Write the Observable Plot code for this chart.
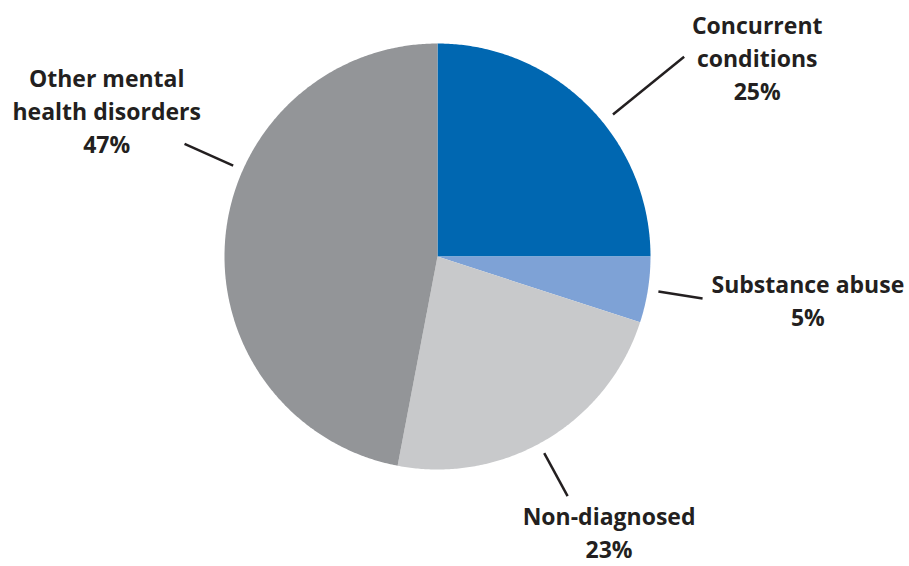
<!DOCTYPE html>
<html>
<head>
<meta charset="utf-8">
<script src="https://cdn.jsdelivr.net/npm/d3@7"></script>
<script src="https://cdn.jsdelivr.net/npm/@observablehq/plot@0.6"></script>
<style>
  html, body { margin: 0; padding: 0; background: #fff; }
  #chart svg { display: block; }
</style>
</head>
<body>
<div id="chart"></div>
<script>
// ---- data ----
const categories = ["Concurrent conditions", "Substance abuse", "Non-diagnosed", "Other mental health disorders"];
const labelLines = ["Concurrent\nconditions", "Substance abuse", "Non-diagnosed", "Other mental\nhealth disorders"];
const values = [25, 5, 23, 47];
const colors = ["#0067b1", "#7ea2d6", "#c8c9cb", "#939598"];

// ---- layout (angles in degrees clockwise from 12 o'clock; radii in pie radii) ----
const leaderAngle = [51, 99, 151.5, 294];
const leaderInner = [1.06, 1.05, 1.05, 1.05];
const leaderOuter = [1.49, 1.26, 1.28, 1.30];
const labelAngle = [58, 96.5, 148.0, 294];
const labelRadius = [1.77, 1.75, 1.52, 1.70];

const W = 909, H = 566, R = 213, cx = 437, cy = 256;

const total = d3.sum(values);
const pie = d3.pie().sort(null).value(d => d)(values);

const rad = a => a * Math.PI / 180;
const pt = (angRad, r) => [r * Math.sin(angRad), r * Math.cos(angRad)];

// slice outlines (geometry sampled along the arc of each slice)
const sliceData = [];
pie.forEach((p, i) => {
  sliceData.push({cat: categories[i], x: 0, y: 0});
  const n = Math.max(2, Math.ceil((p.endAngle - p.startAngle) / rad(0.5)));
  for (let k = 0; k <= n; k++) {
    const a = p.startAngle + (p.endAngle - p.startAngle) * k / n;
    const [x, y] = pt(a, 1);
    sliceData.push({cat: categories[i], x, y});
  }
});

const leaders = categories.map((c, i) => {
  const [x1, y1] = pt(rad(leaderAngle[i]), leaderInner[i]);
  const [x2, y2] = pt(rad(leaderAngle[i]), leaderOuter[i]);
  return {cat: c, x1, y1, x2, y2};
});

const labels = categories.map((c, i) => {
  const [x, y] = pt(rad(labelAngle[i]), labelRadius[i]);
  return {cat: c, x, y, text: labelLines[i] + "\n" + Math.round(values[i] / total * 100) + "%"};
});

const chart = Plot.plot({
  width: W,
  height: H,
  margin: 0,
  x: {domain: [-cx / R, (W - cx) / R], axis: null},
  y: {domain: [-(H - cy) / R, cy / R], axis: null},
  style: {background: "#fff"},
  marks: [
    ...categories.map((c, i) =>
      Plot.line(sliceData.filter(d => d.cat === c), {x: "x", y: "y", fill: colors[i], stroke: "none", curve: "linear"})
    ),
    Plot.link(leaders, {x1: "x1", y1: "y1", x2: "x2", y2: "y2", stroke: "#231f20", strokeWidth: 2.5}),
    Plot.text(labels, {
      x: "x", y: "y", text: "text",
      fill: "#231f20",
      fontFamily: "Open Sans",
      fontWeight: "bold",
      fontSize: 23,
      lineHeight: 1.43,
      textAnchor: "middle",
      lineAnchor: "middle"
    })
  ]
});

document.getElementById("chart").appendChild(chart);
</script>
</body>
</html>
